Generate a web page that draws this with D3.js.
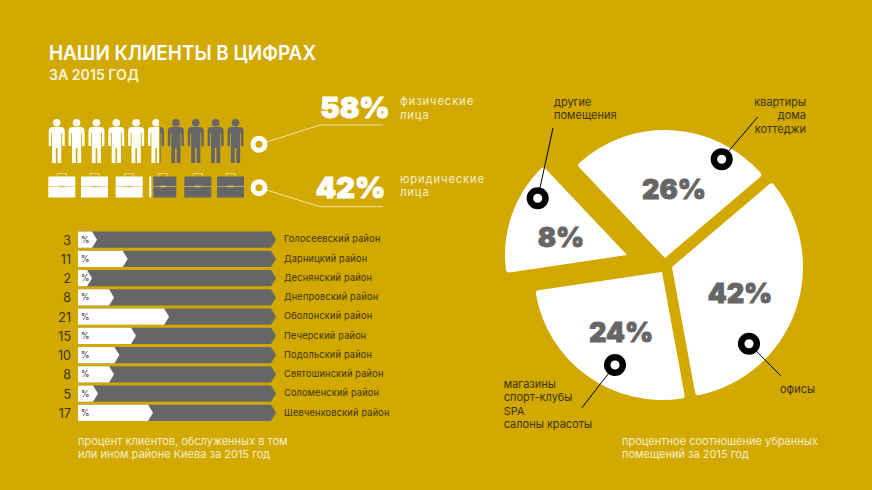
<!DOCTYPE html>
<html lang="ru">
<head>
<meta charset="utf-8">
<script src="https://cdn.jsdelivr.net/npm/d3@7"></script>
<style>
  html, body { margin: 0; padding: 0; background: #d1a900; }
  svg { display: block; }
  text { font-family: Inter, "Open Sans", sans-serif; }
</style>
</head>
<body>
<div id="chart-container"></div>
<script>
// районы
const districts = ["Голосеевский район", "Дарницкий район", "Деснянский район", "Днепровский район",
    "Оболонский район", "Печерский район", "Подольский район", "Святошинский район",
    "Соломенский район", "Шевченковский район"];
const districtValues = [3, 11, 2, 8, 21, 15, 10, 8, 5, 17];
// длина белой полосы, как нарисована на картинке (% от всей полосы)
const districtBarShare = [9.6, 25.1, 7.1, 18.2, 46, 29.3, 20.9, 18.2, 10.1, 37.9];

// клиенты
const clientShares = [58, 42];
const clientLabels = [["физические", "лица"], ["юридические", "лица"]];
const peopleCount = 10;
const caseCount = 6;
// закрашенная доля ряда иконок, как на картинке
const peopleFillShare = 58;
const caseFillShare = 54;

// помещения
const roomShares = [26, 42, 24, 8];
// угол секторов, как нарисованы на картинке (не пропорциональны процентам)
const roomSweepDegrees = [93, 120, 92, 55];
const roomLabels = [
    ["квартиры", "дома", "коттеджи"],
    ["офисы"],
    ["магазины", "спорт-клубы", "SPA", "салоны красоты"],
    ["другие", "помещения"]
];

document.addEventListener("DOMContentLoaded", () => {
    const width = 872;
    const height = 490;
    const bg = "#d1a900";
    const gray = "#666666";
    const pale = "#f7efc8";
    const dark = "#3d3200";

    const svg = d3.select("#chart-container")
        .append("svg")
        .attr("width", width)
        .attr("height", height)
        .attr("viewBox", [0, 0, width, height]);

    svg.append("rect").attr("width", width).attr("height", height).attr("fill", bg);

    // Заголовок
    svg.append("text").attr("x", 49).attr("y", 60)
        .attr("font-size", 20).attr("font-weight", 600).attr("fill", "#fff")
        .attr("textLength", 267).attr("lengthAdjust", "spacingAndGlyphs")
        .text("НАШИ КЛИЕНТЫ В ЦИФРАХ");
    svg.append("text").attr("x", 49).attr("y", 80)
        .attr("font-size", 14).attr("font-weight", 600).attr("fill", "#fbf4d6")
        .attr("textLength", 90).attr("lengthAdjust", "spacingAndGlyphs")
        .text("ЗА 2015 ГОД");

    // Иконки: клипы для белой и серой части
    const defs = svg.append("defs");
    const iconX = d3.scaleLinear().domain([0, 100]).range([48, 243]);
    const clip = (id, x0, x1) => defs.append("clipPath").attr("id", id)
        .append("rect").attr("x", x0).attr("y", 100).attr("width", x1 - x0).attr("height", 110);
    clip("people-white", 40, iconX(peopleFillShare) - 2);
    clip("people-gray", iconX(peopleFillShare) - 1, 260);
    clip("case-white", 40, iconX(caseFillShare) - 2);
    clip("case-gray", iconX(caseFillShare), 260);

    const personX = d3.scalePoint().domain(d3.range(peopleCount)).range([56.7, 235.5]);
    const personPath = "M-8 -32 Q-8 -36 -4 -36 L4 -36 Q8 -36 8 -32 L8 -17 L5.5 -17 L5.5 -30 L4.6 -30 L4.6 0 L0.8 0 L0.8 -15 L-0.8 -15 L-0.8 0 L-4.6 0 L-4.6 -30 L-5.5 -30 L-5.5 -17 L-8 -17 Z";
    const drawPeople = (clipId, color) => {
        const g = svg.append("g").attr("clip-path", `url(#${clipId})`).attr("fill", color);
        const p = g.selectAll("g").data(d3.range(peopleCount)).join("g")
            .attr("transform", d => `translate(${personX(d)},163)`);
        p.append("circle").attr("cy", -40.2).attr("r", 3.8);
        p.append("path").attr("d", personPath);
    };
    drawPeople("people-white", "#fff");
    drawPeople("people-gray", gray);

    const caseX = [48.3, 81, 115.7, 149.3, 184.3, 217].slice(0, caseCount);
    const drawCases = (clipId, color) => {
        const g = svg.append("g").attr("clip-path", `url(#${clipId})`);
        const c = g.selectAll("g").data(caseX).join("g").attr("transform", d => `translate(${d},176.5)`);
        c.append("rect").attr("width", 27).attr("height", 21).attr("fill", color);
        c.append("path").attr("d", "M9 0 V-3 H18 V0").attr("fill", "none").attr("stroke", "#e6d48a").attr("stroke-width", 1);
        c.append("line").attr("x1", 0).attr("x2", 27).attr("y1", 10).attr("y2", 10).attr("stroke", "#e0c75e").attr("stroke-width", 0.7);
        c.append("rect").attr("x", 10.5).attr("y", 9.2).attr("width", 6).attr("height", 1.6).attr("fill", "#e0c75e");
    };
    drawCases("case-white", "#fff");
    drawCases("case-gray", gray);

    // Выноски 58% / 42%
    const callouts = [
        { ring: [259, 144.3], knee: [320, 125], end: 383, textX: 355, textY: 118, labelY: 105 },
        { ring: [259, 187.7], knee: [320, 206.7], end: 383, textX: 350.5, textY: 198, labelY: 182.5 }
    ];
    callouts.forEach((c, i) => {
        svg.append("path")
            .attr("d", d3.line()([c.ring, c.knee, [c.end, c.knee[1]]]))
            .attr("fill", "none").attr("stroke", "#f3e4a6").attr("stroke-width", 1);
        svg.append("circle").attr("cx", c.ring[0]).attr("cy", c.ring[1]).attr("r", 6)
            .attr("fill", bg).attr("stroke", "#fff").attr("stroke-width", 5);
        svg.append("text").attr("x", c.textX).attr("y", c.textY).attr("text-anchor", "middle")
            .attr("font-size", 29).attr("font-weight", 900).attr("fill", "#fff")
            .attr("stroke", "#fff").attr("stroke-width", 1)
            .text(clientShares[i] + "%");
        clientLabels[i].forEach((t, j) => svg.append("text")
            .attr("x", 400).attr("y", c.labelY + j * 13.8)
            .attr("font-size", 11.2).attr("letter-spacing", 0.9).attr("fill", pale).text(t));
    });

    // Полосы по районам
    const barX = d3.scaleLinear().domain([0, 100]).range([78, 276]);
    const barY = d3.scaleBand().domain(districts).range([231, 421.5]).paddingInner(0.16).paddingOuter(0.03);
    const arrow = (x0, x1, y, h) => `M${x0} ${y} H${x1 - 5} L${x1} ${y + h / 2} L${x1 - 5} ${y + h} H${x0} Z`;
    const rows = svg.append("g").selectAll("g").data(districts).join("g");

    rows.append("path")
        .attr("d", d => arrow(barX(0), barX(100), barY(d), barY.bandwidth()))
        .attr("fill", gray);
    rows.append("path")
        .attr("d", (d, i) => arrow(barX(0), barX(districtBarShare[i]), barY(d), barY.bandwidth()))
        .attr("fill", "#fff");
    rows.append("text")
        .attr("x", 81).attr("y", d => barY(d) + barY.bandwidth() / 2 + 3)
        .attr("font-size", 8.5).attr("font-weight", 500).attr("fill", "#444").text("%");
    rows.append("text")
        .attr("x", 71).attr("y", d => barY(d) + barY.bandwidth() / 2 + 5)
        .attr("text-anchor", "end").attr("font-size", 12.5).attr("fill", dark)
        .text((d, i) => districtValues[i]);
    rows.append("text")
        .attr("x", 284).attr("y", d => barY(d) + barY.bandwidth() / 2 + 2.8)
        .attr("font-size", 9.2).attr("letter-spacing", 0.2).attr("fill", dark).text(d => d);

    const captionLeft = ["процент клиентов, обслуженных в том", "или ином районе Киева за 2015 год"];
    captionLeft.forEach((t, j) => svg.append("text").attr("x", 78).attr("y", 445 + j * 13.4)
        .attr("font-size", 11).attr("fill", pale).text(t));

    // Сектора
    const rad = d => d * Math.PI / 180;
    const pie = d3.pie().sort(null).value(d => d)
        .startAngle(rad(-43.4)).endAngle(rad(316.6))(roomSweepDegrees);
    const sliceLayout = [
        { apex: [665, 258], r: 128, text: [674, 189], ring: [721.7, 159.3], tip: [757.7, 117],
          anchor: "end", labelX: 806, labelY: 106 },
        { apex: [672, 267], r: 131, text: [740, 293], ring: [749, 343.7], tip: [780.7, 375.7],
          anchor: "start", labelX: 780, labelY: 393 },
        { apex: [662, 272], r: 128, text: [621, 332], ring: [615, 365], tip: [582, 407.7],
          anchor: "start", labelX: 503.7, labelY: 388 },
        { apex: [627, 255], r: 122, text: [561, 237], ring: [537.7, 198.3], tip: [553, 128],
          anchor: "start", labelX: 554, labelY: 106 }
    ];
    const arc = d3.arc().innerRadius(0).cornerRadius(3);

    pie.forEach((p, i) => {
        const s = sliceLayout[i];
        svg.append("path")
            .attr("transform", `translate(${s.apex})`)
            .attr("d", arc.outerRadius(s.r)(p))
            .attr("fill", "#fff");
    });
    pie.forEach((p, i) => {
        const s = sliceLayout[i];
        svg.append("line")
            .attr("x1", s.ring[0]).attr("y1", s.ring[1]).attr("x2", s.tip[0]).attr("y2", s.tip[1])
            .attr("stroke", "#000").attr("stroke-width", 1);
        svg.append("circle").attr("cx", s.ring[0]).attr("cy", s.ring[1]).attr("r", 7.8)
            .attr("fill", "#fff").attr("stroke", "#000").attr("stroke-width", 6.5);
        svg.append("text").attr("x", s.text[0]).attr("y", s.text[1] + 10).attr("text-anchor", "middle")
            .attr("font-size", 27).attr("font-weight", 900).attr("fill", gray)
            .attr("stroke", gray).attr("stroke-width", 0.8)
            .text(roomShares[i] + "%");
        roomLabels[i].forEach((t, j) => svg.append("text")
            .attr("x", s.labelX).attr("y", s.labelY + j * 13.4).attr("text-anchor", s.anchor)
            .attr("font-size", 11).attr("fill", dark).text(t));
    });

    const captionRight = ["процентное соотношение убранных", "помещений за 2015 год"];
    captionRight.forEach((t, j) => svg.append("text").attr("x", 622).attr("y", 445 + j * 13.4)
        .attr("font-size", 11).attr("fill", pale).text(t));
});
</script>
</body>
</html>
